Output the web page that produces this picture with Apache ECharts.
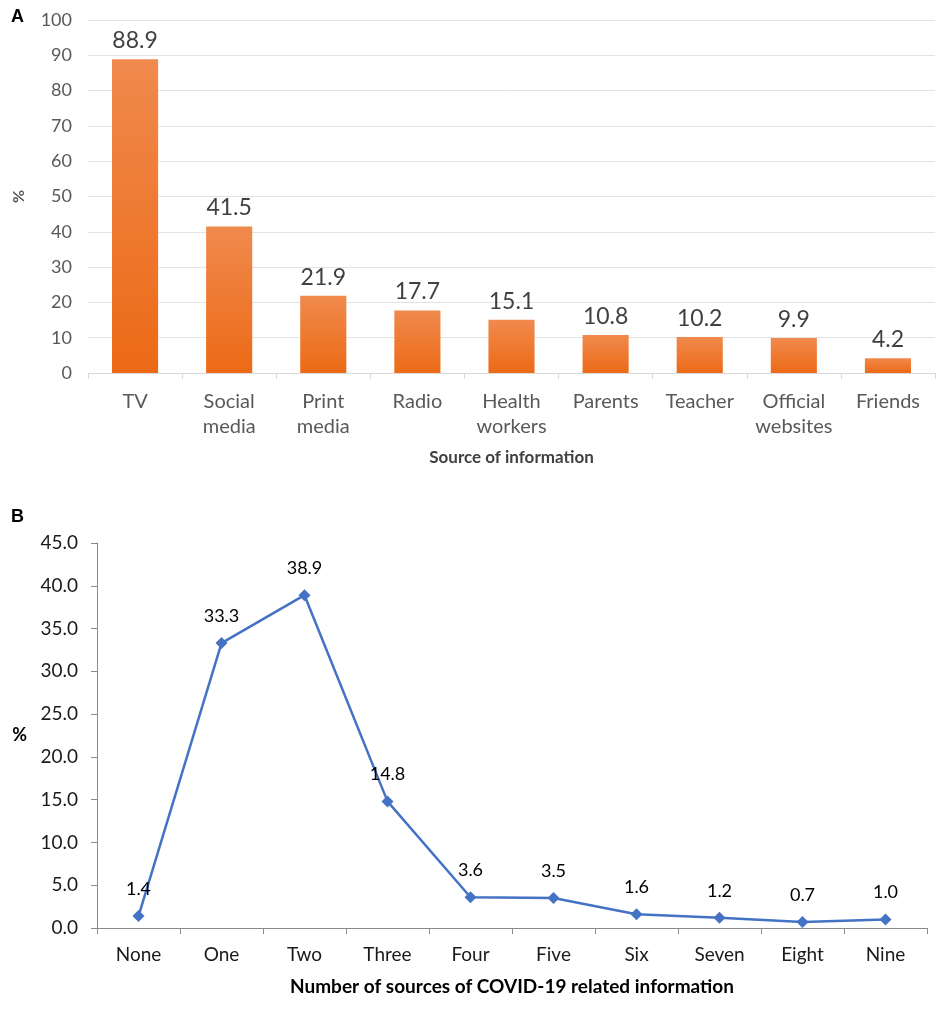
<!DOCTYPE html>
<html lang="en">
  <head>
    <meta charset="UTF-8" />
    <title>Sources of information</title>
    <script src="https://cdn.jsdelivr.net/npm/echarts@6.0.0/dist/echarts.min.js"></script>
    <style>
      * {
        padding: 0;
        margin: 0;
      }
      body {
        background: #ffffff;
      }
      #main {
        width: 940px;
        height: 1017px;
      }
    </style>
  </head>
  <body>
    <div id="main"></div>
    <script>
      // panel A
      var sources = [
        "TV",
        "Social\nmedia",
        "Print\nmedia",
        "Radio",
        "Health\nworkers",
        "Parents",
        "Teacher",
        "Official\nwebsites",
        "Friends",
      ];
      var sourcePct = [88.9, 41.5, 21.9, 17.7, 15.1, 10.8, 10.2, 9.9, 4.2];

      // panel B
      var counts = ["None", "One", "Two", "Three", "Four", "Five", "Six", "Seven", "Eight", "Nine"];
      var countPct = [1.4, 33.3, 38.9, 14.8, 3.6, 3.5, 1.6, 1.2, 0.7, 1.0];

      var font = "Lato";
      var myChart = echarts.init(document.getElementById("main"));

      var option = {
        backgroundColor: "#ffffff",
        textStyle: { fontFamily: font },
        graphic: [
          { type: "text", left: 11, top: 8, style: { text: "A", font: "bold 18px Arial", fill: "#000" } },
          { type: "text", left: 11, top: 508, style: { text: "B", font: "bold 18px Arial", fill: "#000" } },
        ],
        grid: [
          { left: 88, right: 5, top: 20, height: 353 },
          { left: 97, right: 13, top: 543, height: 385 },
        ],
        xAxis: [
          {
            gridIndex: 0,
            type: "category",
            data: sources,
            name: "Source of information",
            nameLocation: "middle",
            nameGap: 76,
            nameTextStyle: { fontFamily: font, fontWeight: "bold", fontSize: 17, color: "#404040" },
            axisLine: { lineStyle: { color: "#d9d9d9" } },
            axisTick: { show: true, length: 6, lineStyle: { color: "#d9d9d9" } },
            axisLabel: { color: "#595959", fontSize: 20, lineHeight: 25, margin: 16, interval: 0 },
          },
          {
            gridIndex: 1,
            type: "category",
            data: counts,
            name: "Number of sources of COVID-19 related information",
            nameLocation: "middle",
            nameGap: 49,
            nameTextStyle: { fontFamily: font, fontWeight: "bold", fontSize: 19, color: "#000" },
            axisLine: { lineStyle: { color: "#8c8c8c" } },
            axisTick: { show: true, length: 6, lineStyle: { color: "#8c8c8c" } },
            axisLabel: { color: "#1a1a1a", fontSize: 19, margin: 17, interval: 0 },
          },
        ],
        yAxis: [
          {
            gridIndex: 0,
            type: "value",
            min: 0,
            max: 100,
            interval: 10,
            name: "%",
            nameLocation: "middle",
            nameGap: 61,
            nameMoveOverlap: false,
            nameRotate: 90,
            nameTextStyle: { fontFamily: font, fontWeight: "bold", fontSize: 16, color: "#595959" },
            axisLine: { show: false },
            axisTick: { show: false },
            axisLabel: { color: "#595959", fontSize: 18, margin: 16 },
            splitLine: { lineStyle: { color: "#e3e3e3" } },
          },
          {
            gridIndex: 1,
            type: "value",
            min: 0,
            max: 45,
            interval: 5,
            name: "%",
            nameLocation: "middle",
            nameGap: 70,
            nameRotate: 0,
            nameTextStyle: { fontFamily: font, fontWeight: "bold", fontSize: 18, color: "#000" },
            axisLine: { show: true, lineStyle: { color: "#8c8c8c" } },
            axisTick: { show: true, length: 6, lineStyle: { color: "#8c8c8c" } },
            axisLabel: {
              color: "#1a1a1a",
              fontSize: 19,
              margin: 19,
              formatter: function (v) {
                return v.toFixed(1);
              },
            },
            splitLine: { show: false },
          },
        ],
        series: [
          {
            type: "bar",
            xAxisIndex: 0,
            yAxisIndex: 0,
            data: sourcePct,
            barWidth: "49%",
            itemStyle: {
              color: new echarts.graphic.LinearGradient(0, 0, 0, 1, [
                { offset: 0, color: "#f08a4d" },
                { offset: 1, color: "#ec6a16" },
              ]),
            },
            label: {
              show: true,
              position: "top",
              distance: 7,
              color: "#404040",
              fontSize: 23,
              formatter: function (p) {
                return p.value.toFixed(1);
              },
            },
          },
          {
            type: "line",
            xAxisIndex: 1,
            yAxisIndex: 1,
            data: countPct,
            symbol: "diamond",
            symbolSize: 12,
            lineStyle: { color: "#4472c4", width: 2.5 },
            itemStyle: { color: "#4472c4" },
            label: {
              show: true,
              position: "top",
              distance: 12,
              color: "#000",
              fontSize: 18,
              formatter: function (p) {
                return p.value.toFixed(1);
              },
            },
          },
        ],
      };
      myChart.setOption(option);
    </script>
  </body>
</html>
